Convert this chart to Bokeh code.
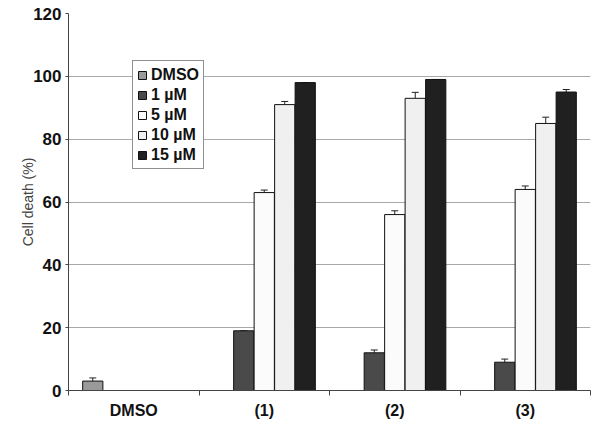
import numpy as np
from bokeh.plotting import figure
from bokeh.models import (ColumnDataSource, FixedTicker, Range1d, Legend, LegendItem,
                          Whisker, TeeHead)
from bokeh.embed import file_html
from bokeh.resources import INLINE

groups = ["DMSO", "(1)", "(2)", "(3)"]
series = ["DMSO", "1 µM", "5 µM", "10 µM", "15 µM"]
colors = ["#9a9a9a", "#4a4a4a", "#fbfbfb", "#f0f0f0", "#202020"]

# values per series for each group (None = no bar)
dmso_vals = [3, None, None, None]
um1_vals = [None, 19, 12, 9]
um5_vals = [None, 63, 56, 64]
um10_vals = [None, 91, 93, 85]
um15_vals = [None, 98, 99, 95]

dmso_err = [1.0, None, None, None]
um1_err = [None, 0.0, 0.9, 1.0]
um5_err = [None, 0.8, 1.2, 1.1]
um10_err = [None, 1.0, 1.9, 2.0]
um15_err = [None, 0.0, 0.0, 0.8]

all_vals = [dmso_vals, um1_vals, um5_vals, um10_vals, um15_vals]
all_errs = [dmso_err, um1_err, um5_err, um10_err, um15_err]

y_ticks = [0, 20, 40, 60, 80, 100, 120]

slot = 0.157
bar_w = 0.155

p = figure(width=592, height=421, output_backend="svg", toolbar_location=None,
           x_range=Range1d(0, len(groups)), y_range=Range1d(0, 120),
           min_border_left=68, min_border_right=2, min_border_top=13, min_border_bottom=31)
p.outline_line_color = None
p.background_fill_color = "white"

legend_items = []
for k, (name, vals, errs, col) in enumerate(zip(series, all_vals, all_errs, colors)):
    xs, tops, ups = [], [], []
    for i, (v, e) in enumerate(zip(vals, errs)):
        if v is None:
            continue
        xs.append(i + 0.5 + (k - 2) * slot)
        tops.append(v)
        ups.append(v + (e or 0))
    src = ColumnDataSource(dict(x=xs, top=tops, up=ups))
    r = p.vbar(x="x", top="top", bottom=0, width=bar_w, source=src,
               fill_color=col, line_color="#111111", line_width=1)
    legend_items.append(LegendItem(label=name, renderers=[r]))
    w = Whisker(base="x", lower="top", upper="up", source=src, dimension="height",
                line_color="#222222", line_width=1,
                upper_head=TeeHead(size=7, line_color="#222222", line_width=1),
                lower_head=None)
    p.add_layout(w)

legend = Legend(items=legend_items, location=(64, 221),
                label_text_font="Liberation Sans", label_text_font_style="bold",
                label_text_font_size="16px", label_text_color="#111111",
                glyph_width=10, glyph_height=10, label_height=19, spacing=1,
                padding=4, label_standoff=4, margin=0,
                border_line_color="#222222", border_line_width=1,
                background_fill_color="white", background_fill_alpha=1)
p.add_layout(legend)

# grid
p.xgrid.grid_line_color = None
p.ygrid.ticker = FixedTicker(ticks=y_ticks)
p.ygrid.grid_line_color = "#a8a8a8"
p.ygrid.grid_line_width = 1

# y axis
p.yaxis.ticker = FixedTicker(ticks=y_ticks)
p.yaxis.axis_label = "Cell death (%)"
p.yaxis.axis_label_text_font = "Liberation Sans"
p.yaxis.axis_label_text_font_style = "normal"
p.yaxis.axis_label_text_font_size = "14px"
p.yaxis.axis_label_text_color = "#444444"
p.yaxis.axis_label_standoff = -6
p.yaxis.major_label_text_font = "Liberation Sans"
p.yaxis.major_label_text_font_style = "bold"
p.yaxis.major_label_text_font_size = "17px"
p.yaxis.major_label_text_color = "#111111"
p.yaxis.major_tick_out = 3
p.yaxis.major_tick_in = 0
p.yaxis.minor_tick_line_color = None
p.yaxis.major_label_standoff = 4
p.yaxis.axis_line_color = "#444444"
p.yaxis.major_tick_line_color = "#444444"

# x axis: labels at group centres, tick marks at group boundaries
centers = [i + 0.5 for i in range(len(groups))]
p.xaxis.ticker = FixedTicker(ticks=centers, minor_ticks=list(range(len(groups) + 1)))
p.xaxis.major_label_overrides = {c: g for c, g in zip(centers, groups)}
p.xaxis.major_tick_line_color = None
p.xaxis.major_tick_out = 0
p.xaxis.minor_tick_out = 5
p.xaxis.minor_tick_in = 0
p.xaxis.minor_tick_line_color = "#444444"
p.xaxis.axis_line_color = "#444444"
p.xaxis.major_label_standoff = 6
p.xaxis.major_label_text_font = "Liberation Sans"
p.xaxis.major_label_text_font_style = "bold"
p.xaxis.major_label_text_font_size = "16px"
p.xaxis.major_label_text_color = "#111111"

open("out.html", "w").write(file_html(p, INLINE))
